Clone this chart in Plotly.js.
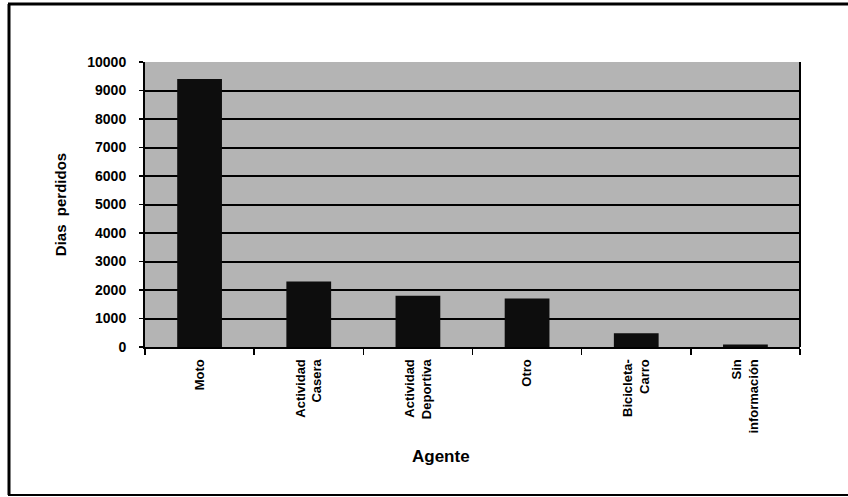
<!DOCTYPE html>
<html>
<head>
<meta charset="utf-8">
<script src="https://cdn.plot.ly/plotly-3.0.1.min.js"></script>
<style>
html,body{margin:0;padding:0;background:#fff;}
#chart{width:848px;height:497px;}
</style>
</head>
<body>
<div id="chart"></div>
<script>
// Data
const categories = ["Moto", "Actividad<br>Casera", "Actividad<br>Deportiva", "Otro", "Bicicleta-<br>Carro", "Sin<br>información"];
const diasPerdidos = [9400, 2300, 1800, 1700, 480, 90];
const yTickVals = [0, 1000, 2000, 3000, 4000, 5000, 6000, 7000, 8000, 9000, 10000];
const yTickText = ["0", "1000", "2000", "3000", "4000", "5000", "6000", "7000", "8000", "9000", "10000"];
const xTitle = "Agente";
const yTitle = "Dias  perdidos";

const fontFam = "Arial, 'Liberation Sans', sans-serif";

const trace = {
  type: "bar",
  x: categories,
  y: diasPerdidos,
  marker: {color: "#0d0d0d", line: {width: 0}},
  hoverinfo: "skip"
};

// plot area: l=145, r=48, t=62, b=150 -> width 655, height 285
const L = 145, T = 62, W = 655, H = 285;
const px = v => (v - L) / W;
const py = v => (T + H - v) / H;

const layout = {
  width: 848,
  height: 497,
  margin: {l: L, r: 848 - L - W, t: T, b: 497 - T - H, pad: 0},
  paper_bgcolor: "#ffffff",
  plot_bgcolor: "#b4b4b4",
  showlegend: false,
  bargap: 0.59,
  font: {family: fontFam, color: "#000"},
  xaxis: {
    type: "category",
    showline: true,
    linecolor: "#000",
    linewidth: 2,
    ticks: "outside",
    tickson: "boundaries",
    ticklen: 6,
    tickwidth: 1.5,
    tickcolor: "#000",
    tickangle: -90,
    ticklabelstandoff: 5,
    tickfont: {family: fontFam, size: 13, weight: "bold", color: "#000"},
    showgrid: false,
    zeroline: false,
    fixedrange: true
  },
  yaxis: {
    range: [0, 10000],
    autorange: false,
    tickvals: yTickVals,
    ticktext: yTickText,
    showline: true,
    linecolor: "#000",
    linewidth: 2,
    ticks: "outside",
    ticklen: 4,
    tickwidth: 1.5,
    tickcolor: "#000",
    ticklabelstandoff: 10,
    tickfont: {family: fontFam, size: 14, weight: "bold", color: "#000"},
    showgrid: true,
    gridcolor: "#000",
    gridwidth: 2,
    zeroline: false,
    title: {text: yTitle, font: {family: fontFam, size: 15, weight: "bold", color: "#000"}, standoff: 17},
    fixedrange: true
  },
  annotations: [
    {
      text: xTitle,
      xref: "paper", yref: "paper",
      x: px(441), y: py(456),
      xanchor: "center", yanchor: "middle",
      showarrow: false,
      font: {family: fontFam, size: 17, weight: "bold", color: "#000"}
    }
  ],
  shapes: [
    // right edge of plot area
    {type: "line", xref: "paper", yref: "paper", x0: 1, x1: 1, y0: 0, y1: 1, line: {color: "#000", width: 2}},
    // outer frame (left, top, bottom)
    {type: "line", xref: "paper", yref: "paper", x0: px(9), x1: px(9), y0: py(4), y1: py(495), line: {color: "#000", width: 3}},
    {type: "line", xref: "paper", yref: "paper", x0: px(8), x1: px(848), y0: py(4), y1: py(4), line: {color: "#000", width: 3}},
    {type: "line", xref: "paper", yref: "paper", x0: px(8), x1: px(848), y0: py(495), y1: py(495), line: {color: "#000", width: 2}}
  ]
};

Plotly.newPlot("chart", [trace], layout, {displayModeBar: false, staticPlot: true});
</script>
</body>
</html>
